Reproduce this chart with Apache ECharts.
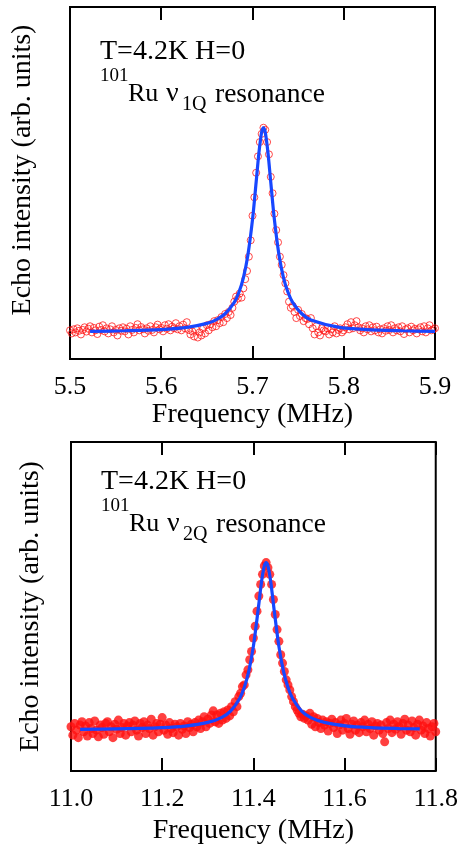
<!DOCTYPE html>
<html>
<head>
<meta charset="utf-8">
<script src="https://cdn.jsdelivr.net/npm/echarts@6/dist/echarts.min.js"></script>
<style>
  html, body { margin: 0; padding: 0; background: #fff; }
  #chart { width: 461px; height: 846px; }
</style>
</head>
<body>
<div id="chart"></div>
<script>
// upper panel: 101Ru nu_1Q, open circles every 2 kHz from 5.500 MHz
const topStart = 5.5
const topStep = 0.002
const topEcho = [
  0.01, -0.005, 0.015, 0.0, 0.02, 0.008, -0.01, 0.012, 0.025, 0.004,
  0.018, 0.03, 0.0, 0.022, 0.01, -0.008, 0.028, 0.012, 0.035, 0.005,
  0.02, -0.005, 0.015, 0.03, 0.0, 0.012, -0.015, 0.02, 0.008, 0.025,
  0.005, 0.018, -0.01, 0.03, 0.012, 0.0, 0.022, 0.04, 0.01, 0.026,
  0.015, -0.005, 0.02, 0.008, 0.03, 0.012, 0.0, 0.025, 0.038, 0.015,
  0.022, 0.005, 0.035, 0.018, 0.04, 0.01, 0.028, 0.02, 0.045, 0.015,
  0.03, 0.01, 0.038, 0.02, 0.05, 0.012, -0.01, 0.005, -0.02, 0.015,
  -0.025, 0.0, -0.015, 0.02, -0.005, 0.035, 0.01, 0.04, 0.025, 0.055,
  0.03, 0.06, 0.045, 0.075, 0.05, 0.09, 0.07, 0.1, 0.085, 0.12,
  0.15, 0.175, 0.165, 0.19, 0.17, 0.215, 0.26, 0.3, 0.37, 0.45,
  0.57, 0.66, 0.78, 0.86, 0.93, 0.97, 1.0, 0.99, 0.93, 0.87,
  0.76, 0.68, 0.58, 0.5, 0.44, 0.37, 0.33, 0.28, 0.24, 0.2,
  0.15, 0.12, 0.13, 0.1, 0.07, 0.11, 0.08, 0.09, 0.055, 0.07,
  0.065, 0.04, 0.07, 0.02, -0.01, 0.03, 0.0, -0.015, 0.02, 0.01,
  0.005, 0.02, -0.01, 0.015, 0.0, 0.03, -0.005, 0.012, 0.02, 0.0,
  0.01, 0.025, 0.04, 0.015, 0.05, 0.02, 0.035, 0.055, 0.025, 0.01,
  0.02, 0.0, 0.03, 0.015, 0.035, 0.005, 0.025, 0.01, 0.028, 0.0,
  0.015, -0.005, 0.02, 0.008, 0.03, 0.012, 0.035, 0.0, 0.02, 0.01,
  0.025, 0.005, 0.03, -0.008, 0.015, 0.02, 0.0, 0.028, 0.01, 0.018,
  -0.005, 0.015, 0.025, 0.005, 0.03, 0.0, 0.02, 0.035, 0.01, 0.015,
  0.02
]
const topFitFreq = [5.522, 5.56, 5.6, 5.63, 5.65, 5.66, 5.67, 5.68, 5.685, 5.69, 5.695, 5.7, 5.704, 5.707, 5.71, 5.712,
  5.714, 5.717, 5.72, 5.724, 5.729, 5.734, 5.739, 5.744, 5.754, 5.764, 5.794, 5.824, 5.864, 5.9]
const topFitEcho = [0.005, 0.008, 0.014, 0.026, 0.044, 0.061, 0.091, 0.147, 0.195, 0.267, 0.38, 0.551, 0.734, 0.876, 0.978, 1.0,
  0.978, 0.876, 0.734, 0.551, 0.38, 0.267, 0.195, 0.147, 0.091, 0.061, 0.026, 0.014, 0.008, 0.005]

// lower panel: 101Ru nu_2Q, filled dots every 4 kHz from 11.000 MHz
const botStart = 11.0
const botStep = 0.004
const botEcho = [
  0.02, -0.03, 0.04, 0.0, -0.045, 0.03, 0.05, -0.01, 0.025, -0.035,
  0.045, 0.01, -0.02, 0.055, 0.0, -0.04, 0.03, 0.015, -0.025, 0.04,
  0.05, -0.01, 0.02, -0.045, 0.035, 0.005, 0.06, -0.02, 0.015, 0.04,
  -0.03, 0.025, 0.045, -0.01, 0.03, 0.055, 0.0, -0.035, 0.04, 0.015,
  0.05, -0.02, 0.03, 0.01, 0.065, -0.03, 0.02, 0.04, -0.01, 0.035,
  0.075, 0.0, 0.03, -0.025, 0.045, 0.01, -0.015, 0.035, 0.02, -0.03,
  0.04, 0.005, 0.025, -0.02, 0.05, 0.015, 0.035, -0.01, 0.045, 0.02,
  0.06, 0.01, 0.05, 0.08, 0.02, 0.065, 0.04, 0.09, 0.115, 0.05,
  0.09, 0.04, 0.1, 0.06, 0.11, 0.07, 0.12, 0.085, 0.14, 0.11,
  0.17, 0.14, 0.2, 0.22, 0.26, 0.27, 0.33, 0.36, 0.42, 0.47,
  0.55, 0.62, 0.71, 0.8, 0.87, 0.93, 0.98, 1.0, 0.97, 0.93,
  0.87, 0.78, 0.69, 0.6, 0.53, 0.45, 0.4, 0.35, 0.3, 0.27,
  0.24, 0.2, 0.17, 0.14, 0.12, 0.1, 0.08, 0.095, 0.07, 0.085,
  0.06, 0.1, 0.035, 0.08, 0.02, 0.07, 0.045, 0.01, 0.06, 0.03,
  0.05, -0.005, 0.04, 0.065, 0.015, 0.045, -0.02, 0.03, 0.06, 0.0,
  0.04, 0.07, 0.01, -0.025, 0.035, 0.055, 0.0, 0.03, -0.015, 0.045,
  0.02, 0.06, -0.01, 0.035, 0.01, 0.05, -0.03, 0.025, 0.04, 0.0,
  0.03, -0.02, -0.07, 0.045, 0.01, 0.06, -0.015, 0.035, 0.005, 0.05,
  0.02, -0.025, 0.04, 0.065, 0.0, 0.03, -0.01, 0.055, 0.015, -0.03,
  0.035, 0.06, 0.0, 0.025, -0.02, 0.045, 0.01, -0.035, 0.02, 0.04,
  -0.01
]
const botFitFreq = [11.02, 11.1, 11.2, 11.25, 11.3, 11.33, 11.35, 11.37, 11.38, 11.39, 11.4, 11.41, 11.418, 11.424, 11.428,
  11.432, 11.438, 11.446, 11.456, 11.466, 11.476, 11.486, 11.506, 11.526, 11.556, 11.606, 11.656, 11.72, 11.765]
const botFitEcho = [0.005, 0.007, 0.015, 0.024, 0.046, 0.075, 0.114, 0.189, 0.254, 0.352, 0.5, 0.708, 0.887, 0.98, 1.0,
  0.98, 0.887, 0.708, 0.5, 0.352, 0.254, 0.189, 0.114, 0.075, 0.046, 0.024, 0.015, 0.0095, 0.007]

const serif = '"Liberation Serif", "Times New Roman", serif'

const pairs = (start, step, ys) => ys.map((v, i) => [+(start + i * step).toFixed(4), v])
const zip = (xs, ys) => xs.map((x, i) => [x, ys[i]])

const tickAxis = (gridIndex, min, max, interval, position, labels) => ({
  type: 'value',
  gridIndex: gridIndex,
  position: position,
  min: min,
  max: max,
  interval: interval,
  axisLine: { show: false, onZero: false },
  axisTick: { show: true, inside: true, length: 13, lineStyle: { color: '#000', width: 2 } },
  splitLine: { show: false },
  axisLabel: {
    show: labels,
    color: '#000',
    fontSize: 26,
    fontFamily: serif,
    margin: 15,
    formatter: (v) => v.toFixed(1),
  },
})

const plainY = (gridIndex, min, max, gap, pad) => ({
  type: 'value',
  gridIndex: gridIndex,
  min: min,
  max: max,
  axisLine: { show: false },
  axisTick: { show: false },
  axisLabel: { show: false },
  splitLine: { show: false },
  name: 'Echo intensity (arb. units)',
  nameLocation: 'middle',
  nameGap: gap,
  nameTextStyle: { color: '#000', fontSize: 28, fontFamily: serif, padding: pad },
})

// annotation text: each piece is its own title so super/subscripts sit where they do in the figure
const txt = (text, left, top, size) => ({
  text: text, left: left, top: top, padding: 0,
  textStyle: { fontFamily: serif, color: '#000', fontWeight: 'normal', fontSize: size },
})
const labelBlock = (x, y, sub) => [
  txt('T=4.2K H=0', x, y, 28),
  txt('101', x, y + 29, 19),
  txt('Ru', x + 28, y + 43.5, 26),
  txt('ν', x + 66, y + 41.9, 28),
  txt(sub, x + 82, y + 56.9, 20),
  txt('resonance', x + 115, y + 42.3, 27.5),
]

const chart = echarts.init(document.getElementById('chart'))
chart.setOption({
  animation: false,
  backgroundColor: '#fff',
  title: labelBlock(100, 38, '1Q').concat(labelBlock(101, 468, '2Q')),
  grid: [
    { left: 70, top: 7, width: 365, height: 352, show: true, borderColor: '#000', borderWidth: 2, backgroundColor: 'transparent' },
    { left: 71, top: 442, width: 365, height: 330, show: true, borderColor: '#000', borderWidth: 2, backgroundColor: 'transparent' },
  ],
  xAxis: [
    Object.assign(tickAxis(0, 5.5, 5.9, 0.1, 'bottom', true), {
      name: 'Frequency (MHz)', nameLocation: 'middle', nameGap: 40,
      nameTextStyle: { color: '#000', fontSize: 28, fontFamily: serif },
    }),
    tickAxis(0, 5.5, 5.9, 0.1, 'top', false),
    Object.assign(tickAxis(1, 11.0, 11.8, 0.2, 'bottom', true), {
      name: 'Frequency (MHz)', nameLocation: 'middle', nameGap: 46,
      nameTextStyle: { color: '#000', fontSize: 28, fontFamily: serif },
    }),
    tickAxis(1, 11.0, 11.8, 0.2, 'top', false),
  ],
  yAxis: [
    plainY(0, -0.13, 1.59, 33, [0, 0, 0, 26]),
    plainY(1, -0.244, 1.72, 26, 0),
  ],
  series: [
    {
      type: 'scatter',
      xAxisIndex: 0,
      yAxisIndex: 0,
      symbol: 'circle',
      symbolSize: 7,
      itemStyle: { color: 'rgba(0,0,0,0)', borderColor: '#ff1a1a', borderWidth: 1 },
      data: pairs(topStart, topStep, topEcho),
    },
    {
      type: 'line',
      xAxisIndex: 0,
      yAxisIndex: 0,
      smooth: 0.3,
      showSymbol: false,
      lineStyle: { color: '#1747ff', width: 3.2 },
      data: zip(topFitFreq, topFitEcho),
    },
    {
      type: 'scatter',
      xAxisIndex: 2,
      yAxisIndex: 1,
      symbol: 'circle',
      symbolSize: 9,
      itemStyle: { color: '#ff1010' },
      data: pairs(botStart, botStep, botEcho),
    },
    {
      type: 'line',
      xAxisIndex: 2,
      yAxisIndex: 1,
      smooth: 0.3,
      showSymbol: false,
      lineStyle: { color: '#1747ff', width: 3.2 },
      data: zip(botFitFreq, botFitEcho),
    },
  ],
})
</script>
</body>
</html>
